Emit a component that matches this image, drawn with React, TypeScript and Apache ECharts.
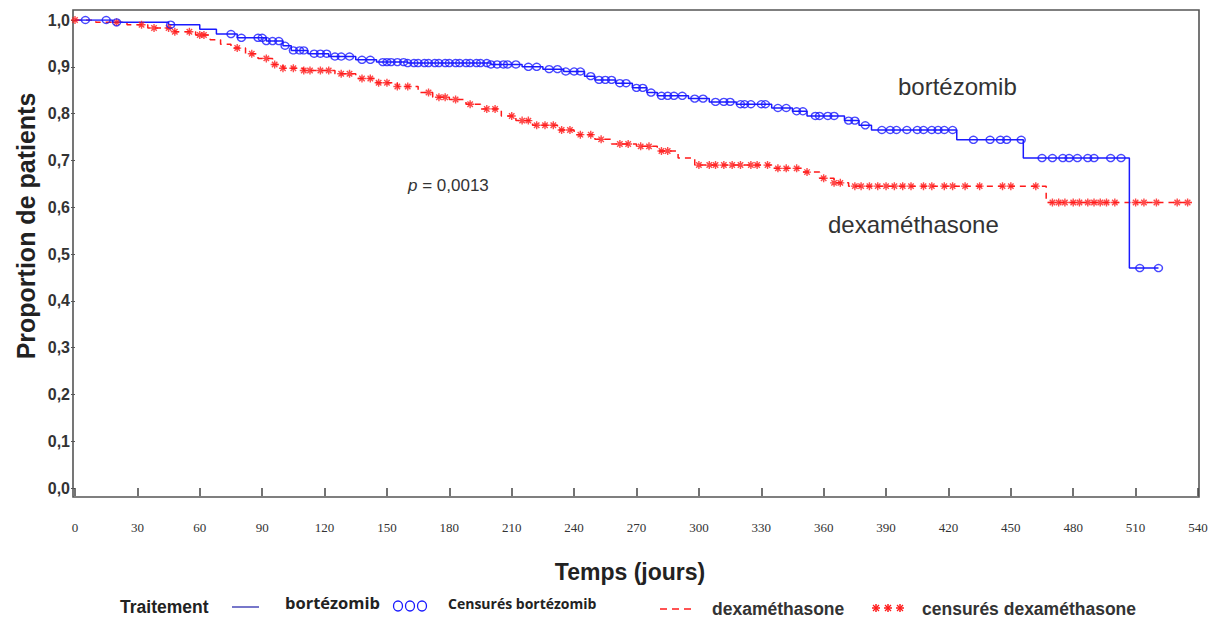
import React, { useEffect, useRef } from "react";
import * as echarts from "echarts";

// Kaplan-Meier steps (time in days, survival proportion)
const bortTimes = [0, 18, 45, 60, 68, 78, 92, 100, 104, 112, 122, 135, 145, 160, 200, 215, 225, 235, 245, 250, 260, 268, 275, 280, 295, 305, 318, 335, 345, 352, 370, 377, 383, 424, 456, 507, 521];
const bortSurv = [1.0, 0.995, 0.99, 0.98, 0.97, 0.962, 0.955, 0.945, 0.935, 0.928, 0.922, 0.915, 0.91, 0.908, 0.905, 0.9, 0.895, 0.89, 0.88, 0.872, 0.865, 0.855, 0.845, 0.838, 0.832, 0.825, 0.82, 0.812, 0.805, 0.795, 0.785, 0.775, 0.765, 0.744, 0.705, 0.47, 0.47];
const bortCensorTimes = [5, 15, 20, 46, 75, 80, 88, 90, 92, 95, 98, 101, 105, 108, 110, 115, 118, 121, 125, 128, 132, 138, 142, 148, 150, 152, 155, 158, 160, 163, 165, 168, 170, 173, 175, 178, 180, 183, 185, 188, 190, 193, 195, 198, 200, 203, 206, 208, 212, 218, 222, 228, 232, 236, 240, 243, 248, 252, 255, 258, 262, 265, 270, 273, 277, 282, 285, 288, 292, 298, 302, 308, 312, 315, 320, 322, 325, 330, 332, 338, 342, 347, 350, 356, 358, 362, 365, 372, 375, 380, 388, 392, 395, 400, 405, 408, 412, 415, 418, 422, 432, 440, 445, 448, 455, 465, 470, 475, 478, 482, 487, 490, 498, 503, 512, 521];

const dexaTimes = [0, 10, 25, 35, 48, 58, 65, 70, 75, 82, 88, 95, 100, 110, 125, 135, 145, 155, 165, 172, 180, 188, 195, 205, 212, 220, 232, 240, 250, 258, 270, 280, 290, 298, 335, 350, 358, 365, 372, 467, 537];
const dexaSurv = [1.0, 0.995, 0.99, 0.983, 0.975, 0.968, 0.958, 0.948, 0.94, 0.928, 0.918, 0.905, 0.897, 0.892, 0.885, 0.875, 0.866, 0.858, 0.845, 0.835, 0.83, 0.82, 0.81, 0.795, 0.785, 0.775, 0.765, 0.755, 0.745, 0.735, 0.73, 0.72, 0.705, 0.69, 0.683, 0.675, 0.662, 0.652, 0.645, 0.61, 0.61];
const dexaCensorTimes = [0, 20, 32, 38, 45, 48, 55, 60, 62, 78, 85, 92, 96, 100, 105, 110, 113, 118, 122, 128, 132, 138, 142, 146, 150, 155, 160, 170, 175, 178, 183, 190, 198, 202, 210, 215, 218, 222, 226, 230, 234, 238, 243, 248, 253, 262, 266, 272, 276, 282, 285, 300, 305, 308, 312, 316, 320, 325, 328, 333, 338, 342, 347, 352, 360, 365, 368, 375, 378, 382, 386, 390, 394, 398, 402, 408, 412, 418, 422, 428, 435, 446, 450, 462, 470, 473, 476, 480, 483, 487, 490, 493, 496, 500, 510, 514, 520, 530, 535];

const xMin = 0;
const xMax = 540;
const xStep = 30;
const yMin = 0;
const yMax = 1;
const yStep = 0.1;

const BLUE = "#1a1aff";
const RED = "#ff1a1a";
const ASTERISK = "path://M5,0L5,10M0,5L10,5M1.6,1.6L8.4,8.4M1.6,8.4L8.4,1.6";
const SANS = "Liberation Sans, Arial";

function valueAt(times: number[], surv: number[], t: number): number {
  let v = surv[0];
  for (let i = 0; i < times.length; i++) {
    if (times[i] <= t) v = surv[i];
  }
  return v;
}

export default function App() {
  const ref = useRef<HTMLDivElement>(null);
  useEffect(() => {
    const chart = echarts.init(ref.current!, null, { renderer: "svg" });
    const bortLine = bortTimes.map((t, i) => [t, bortSurv[i]]);
    const dexaLine = dexaTimes.map((t, i) => [t, dexaSurv[i]]);
    const bortCens = bortCensorTimes.map((t) => [t, valueAt(bortTimes, bortSurv, t)]);
    const dexaCens = dexaCensorTimes.map((t) => [t, valueAt(dexaTimes, dexaSurv, t)]);

    const legendY = 607;
    const option: any = {
      animation: false,
      backgroundColor: "#ffffff",
      grid: { left: 75, right: 19, top: 20, bottom: 134 },
      xAxis: {
        type: "value",
        min: xMin,
        max: xMax,
        interval: xStep,
        offset: 9,
        axisLine: { show: false },
        axisTick: { show: true, length: 8, lineStyle: { color: "#444", width: 1.5 } },
        axisLabel: {
          fontFamily: "Liberation Serif",
          fontSize: 13,
          color: "#333",
          margin: 24,
        },
        splitLine: { show: false },
      },
      yAxis: {
        type: "value",
        min: yMin,
        max: yMax,
        interval: yStep,
        offset: 2,
        axisLine: { show: false },
        axisTick: { show: true, length: 4, lineStyle: { color: "#555", width: 1 } },
        axisLabel: {
          fontFamily: SANS,
          fontWeight: "bold",
          fontSize: 16,
          color: "#333",
          margin: 3,
          formatter: (v: number) => v.toFixed(1).replace(".", ","),
        },
        splitLine: { show: false },
      },
      graphic: [
        {
          type: "rect",
          shape: { x: 73, y: 10, width: 1126, height: 487 },
          style: { fill: "none", stroke: "#555", lineWidth: 1.6 },
          silent: true,
        },
        {
          type: "text",
          x: 26,
          y: 226,
          rotation: Math.PI / 2,
          style: {
            text: "Proportion de patients",
            fontFamily: SANS,
            fontWeight: "bold",
            fontSize: 25,
            fill: "#222",
            align: "center",
            verticalAlign: "middle",
          },
        },
        {
          type: "text",
          x: 630,
          y: 572,
          style: {
            text: "Temps (jours)",
            fontFamily: SANS,
            fontWeight: "bold",
            fontSize: 23,
            fill: "#222",
            align: "center",
            verticalAlign: "middle",
          },
        },
        {
          type: "text",
          x: 898,
          y: 86,
          style: {
            text: "bortézomib",
            fontFamily: SANS,
            fontSize: 24,
            fill: "#333",
            align: "left",
            verticalAlign: "middle",
          },
        },
        {
          type: "text",
          x: 828,
          y: 224,
          style: {
            text: "dexaméthasone",
            fontFamily: SANS,
            fontSize: 24,
            fill: "#333",
            align: "left",
            verticalAlign: "middle",
          },
        },
        {
          type: "text",
          x: 408,
          y: 185,
          style: {
            text: "{i|p} = 0,0013",
            fontFamily: SANS,
            fontSize: 17,
            fill: "#333",
            align: "left",
            verticalAlign: "middle",
            rich: {
              i: { fontStyle: "italic", fontFamily: SANS, fontSize: 17, fill: "#333" },
            },
          },
        },
        // Legend
        {
          type: "text",
          x: 120,
          y: legendY,
          style: {
            text: "Traitement",
            fontFamily: SANS,
            fontWeight: "bold",
            fontSize: 17.5,
            fill: "#222",
            verticalAlign: "middle",
          },
        },
        {
          type: "line",
          shape: { x1: 232, y1: legendY, x2: 259, y2: legendY },
          style: { stroke: "#4a4ab8", lineWidth: 1.5 },
        },
        {
          type: "text",
          x: 285,
          y: legendY - 5,
          style: {
            text: "bortézomib",
            fontFamily: "Open Sans",
            fontWeight: "bold",
            fontSize: 16.5,
            fill: "#222",
            verticalAlign: "middle",
          },
        },
        { type: "ellipse", shape: { cx: 398, cy: legendY - 1, rx: 4.5, ry: 5 }, style: { fill: "none", stroke: BLUE, lineWidth: 1.3 } },
        { type: "ellipse", shape: { cx: 410, cy: legendY - 1, rx: 4.5, ry: 5 }, style: { fill: "none", stroke: BLUE, lineWidth: 1.3 } },
        { type: "ellipse", shape: { cx: 422, cy: legendY - 1, rx: 4.5, ry: 5 }, style: { fill: "none", stroke: BLUE, lineWidth: 1.3 } },
        {
          type: "text",
          x: 448,
          y: legendY - 4,
          style: {
            text: "Censurés bortézomib",
            fontFamily: "Open Sans",
            fontWeight: "bold",
            fontSize: 14,
            fill: "#222",
            verticalAlign: "middle",
          },
        },
        { type: "line", shape: { x1: 660, y1: legendY + 2, x2: 667, y2: legendY + 2 }, style: { stroke: RED, lineWidth: 1.5 } },
        { type: "line", shape: { x1: 672, y1: legendY + 2, x2: 679, y2: legendY + 2 }, style: { stroke: RED, lineWidth: 1.5 } },
        { type: "line", shape: { x1: 684, y1: legendY + 2, x2: 691, y2: legendY + 2 }, style: { stroke: RED, lineWidth: 1.5 } },
        {
          type: "text",
          x: 712,
          y: legendY + 2,
          style: {
            text: "dexaméthasone",
            fontFamily: SANS,
            fontWeight: "bold",
            fontSize: 17.5,
            fill: "#333",
            verticalAlign: "middle",
          },
        },
        ...[876, 888, 900].map((cx) => ({
          type: "group",
          x: cx,
          y: legendY + 1,
          children: [
            { type: "line", shape: { x1: -4, y1: 0, x2: 4, y2: 0 }, style: { stroke: RED, lineWidth: 1.5 } },
            { type: "line", shape: { x1: 0, y1: -4, x2: 0, y2: 4 }, style: { stroke: RED, lineWidth: 1.5 } },
            { type: "line", shape: { x1: -3, y1: -3, x2: 3, y2: 3 }, style: { stroke: RED, lineWidth: 1.2 } },
            { type: "line", shape: { x1: -3, y1: 3, x2: 3, y2: -3 }, style: { stroke: RED, lineWidth: 1.2 } },
          ],
        })),
        {
          type: "text",
          x: 922,
          y: legendY + 2,
          style: {
            text: "censurés dexaméthasone",
            fontFamily: SANS,
            fontWeight: "bold",
            fontSize: 17.5,
            fill: "#333",
            verticalAlign: "middle",
          },
        },
      ],
      series: [
        {
          name: "dexaméthasone",
          type: "line",
          step: "end",
          data: dexaLine,
          showSymbol: false,
          symbol: "none",
          lineStyle: { color: RED, width: 1.5, type: [6, 5] },
          z: 2,
        },
        {
          name: "bortézomib",
          type: "line",
          step: "end",
          data: bortLine,
          showSymbol: false,
          symbol: "none",
          lineStyle: { color: BLUE, width: 1.5 },
          z: 3,
        },
        {
          name: "censurés dexaméthasone",
          type: "scatter",
          data: dexaCens,
          symbol: ASTERISK,
          symbolSize: 8,
          itemStyle: { color: RED, borderColor: RED, borderWidth: 1.4 },
          z: 4,
        },
        {
          name: "Censurés bortézomib",
          type: "scatter",
          data: bortCens,
          symbol: "circle",
          symbolSize: [8, 7],
          itemStyle: { color: "rgba(255,255,255,0)", borderColor: BLUE, borderWidth: 1.4 },
          z: 5,
        },
      ],
    };
    chart.setOption(option);
    return () => chart.dispose();
  }, []);
  return (
    <div
      ref={ref}
      style={{ position: "fixed", left: 0, top: 0, width: 1217, height: 622, background: "#fff" }}
    />
  );
}
